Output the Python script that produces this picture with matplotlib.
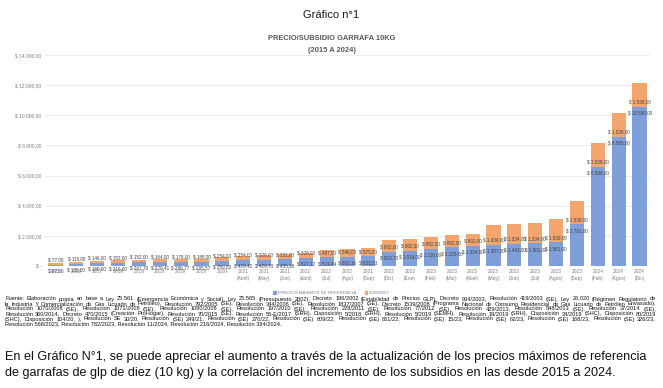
import matplotlib
matplotlib.use("Agg")
import matplotlib.pyplot as plt
from matplotlib.patches import Patch

plt.rcParams['font.family'] = ['Liberation Sans', 'DejaVu Sans']

# data
years = ['2015', '2016', '2017', '2018', '2019', '2019', '2019', '2019', '2020',
         '2021', '2021', '2021', '2022', '2022', '2022', '2021', '2022',
         '2023', '2023', '2023', '2023', '2023', '2023', '2023', '2023', '2023',
         '2024', '2024', '2024']
months = ['', '', '', '', '', '', '', '', '',
          '(Abril)', '(May)', '(Jun)', '(abril)', '(Jul)', '(Ago)', '(Sep)', '(Dic)',
          '(Ene)', '(Feb)', '(Mar)', '(Abril)', '(May)', '(Jun)', '(Jul)', '(Agos)', '(Sep)',
          '(Feb)', '(Agos)', '(Dic)']
precio = [97.00, 135.00, 189.00, 216.00, 267.70, 278.41, 286.77, 295.57, 359.82,
          429.42, 429.70, 435.18, 527.12, 574.44, 603.16, 633.53, 923.70,
          1016.00, 1116.00, 1229.00, 1324.00, 1387.00, 1443.00, 1501.00, 1561.00, 2761.00,
          6598.00, 8580.00, 10580.00]
subsidio = [77.00, 115.00, 146.00, 152.00, 152.00, 164.00, 176.00, 188.00, 254.00,
            254.00, 326.00, 331.00, 328.00, 487.00, 546.00, 575.00, 802.00,
            802.00, 802.00, 802.00, 802.00, 1334.00, 1334.00, 1334.00, 1539.00, 1539.00,
            1539.00, 1539.00, 1539.00]

source_lines = [
    "Fuente: Elaboración propia en base a Ley 25.561 (Emergencia Económica y Social), Ley 25.565 (Presupuesto 2002), Decreto 196/2002 (Estabilidad de Precios GLP), Decreto 934/2003, Resolución 419/2003 (SE), Ley 26.020 (Régimen Regulatorio de",
    "la Industria y Comercialización de Gas Licuado de Petróleo), Resolución 792/2005 (SE), Resolución 344/2006 (SE), Resolución 1837/2007 (SE), Decreto 1539/2008 (Programa Nacional de Consumo Residencial de Gas Licuado de Petróleo Envasado),",
    "Resolución 1070/2008 (SE), Resolución 1071/2008 (SE), Resolución 1080/2008 (SE), Resolución 197/2010 (SE), Resolución 228/2011 (SE), Resolución 77/2012 (SE), Resolución 429/2013, Resolución 548/2013 (SE), Resolución 37/2014 (SE),",
    "Resolución 360/2014, Decreto 470/2015 (Creación ProHogar), Resolución 70/2015 (SE), Resolución 56-E/2017 (SRH), Disposición 5/2018 (SRH), Resolución 5/2019 (SEMH), Resolución 19/2019 (SRH), Disposición 34/2019 (SHC), Disposición 80/2019",
    "(SHC), Disposición 104/20, ), Resolución SE 30/20, Resolución (SE) 249/21, Resolución (SE) 270/22, Resolución (SE) 609/22, Resolución (SE) 861/22, Resolución (SE) 15/23, Resolución (SE) 62/23, Resolución (SE) 168/23, Resolución (SE) 326/23,",
    "Resolución 568/2023, Resolución 782/2023, Resolución 11/2024, Resolución 216/2024, Resolución 394/2024.",
]
paragraph = [
    "En el Gráfico N°1, se puede apreciar el aumento a través de la actualización de los precios máximos de referencia",
    "de garrafas de glp de diez (10 kg) y la correlación del incremento de los subsidios en las desde 2015 a 2024.",
]

BLUE = '#7F9FDA'
ORANGE = '#F2A66E'
GRAY = '#595959'


def money(v):
    s = f"{v:,.2f}".replace(',', 'X').replace('.', ',').replace('X', '.')
    return '$ ' + s


W, H = 663, 388
fig = plt.figure(figsize=(W / 100, H / 100), dpi=100)
renderer = fig.canvas.get_renderer()


def fit(t, target_px):
    w = t.get_window_extent(renderer).width
    t.set_fontsize(t.get_fontsize() * target_px / w)
    return t


ax = fig.add_axes([45 / W, 1 - 266 / H, 605 / W, 211 / H])
x = list(range(len(years)))
ax.bar(x, precio, width=0.68, color=BLUE, zorder=3)
ax.bar(x, subsidio, width=0.68, bottom=precio, color=ORANGE, zorder=3)
ax.set_xlim(-0.5, len(years) - 0.5)
ax.set_ylim(0, 14000)

yt = list(range(0, 14001, 2000))
ax.set_yticks(yt)
ax.set_yticklabels(['$ -'] + [money(v) for v in yt[1:]], fontsize=3.5, color='#7F7F7F')
ax.set_xticks(x)
ax.set_xticklabels([y + ('\n' + m if m else '') for y, m in zip(years, months)],
                   fontsize=3.5, color='#7F7F7F', linespacing=1.35)
ax.tick_params(length=0, pad=2.5)
ax.grid(axis='y', color='#E3E3E3', lw=0.5, zorder=0)
for s in ax.spines.values():
    s.set_visible(False)

for i in x:
    ax.annotate(money(subsidio[i]), (i, precio[i]), xytext=(0, 3.6), textcoords='offset points',
                ha='center', va='center', fontsize=3.3, color='#404040', zorder=5)
    ax.annotate(money(precio[i]), (i, precio[i]), xytext=(0, -4.3), textcoords='offset points',
                ha='center', va='center', fontsize=3.3, color='#404040', zorder=5)

t = fig.text(0.5, 1 - 15 / H, 'Gráfico n°1', ha='center', va='center', fontsize=9, color='#1a1a1a')
fit(t, 56)
t = fig.text(0.5, 1 - 38 / H, 'PRECIO/SUBSIDIO GARRAFA 10KG', ha='center', va='center',
             fontsize=6, fontweight='bold', color=GRAY)
fit(t, 127)
fig.text(0.5, 1 - 51 / H, '(2015 A 2024)', ha='center', va='center',
         fontsize=t.get_fontsize(), fontweight='bold', color=GRAY)

handles = [Patch(color=BLUE, label='PRECIOS MÁXIMOS DE REFERENCIA'),
           Patch(color=ORANGE, label='SUBSIDIO')]
fig.legend(handles=handles, loc='center', bbox_to_anchor=(0.5, 1 - 293 / H), ncol=2,
           frameon=False, fontsize=3.2, handlelength=0.6, handleheight=0.6,
           handletextpad=0.4, columnspacing=2.0, labelcolor='#7F7F7F')

# source note: size so the longest line fits, then justify each line
x0, x1 = 5 / W, 656 / W
probe = fig.text(0, 0, source_lines[3], fontsize=4)
fs_src = 4 * 630 / probe.get_window_extent(renderer).width
probe.remove()
for k, line in enumerate(source_lines):
    yy = 1 - (299 + 5 * k) / H
    if k == len(source_lines) - 1:
        fig.text(x0, yy, line, ha='left', va='center', fontsize=fs_src, color='#111111')
        continue
    words = line.split(' ')
    objs = [fig.text(0, yy, w_, ha='left', va='center', fontsize=fs_src, color='#111111') for w_ in words]
    widths = [o.get_window_extent(renderer).width / W for o in objs]
    gap = (x1 - x0 - sum(widths)) / (len(words) - 1)
    pos = x0
    for o, wd in zip(objs, widths):
        o.set_x(pos)
        pos += wd + gap

p0 = fig.text(5 / W, 1 - 357 / H, paragraph[0], ha='left', va='center', fontsize=10, color='#111111')
fit(p0, 640)
fig.text(5 / W, 1 - 373 / H, paragraph[1], ha='left', va='center',
         fontsize=p0.get_fontsize(), color='#111111')

fig.savefig('out.png', dpi=100, facecolor='white')
